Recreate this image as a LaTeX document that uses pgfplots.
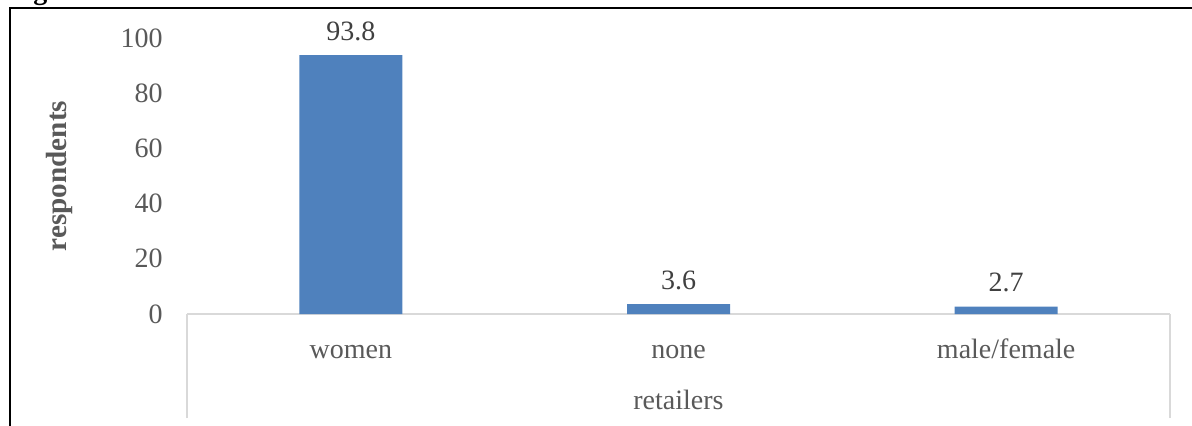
\documentclass[border=0pt]{standalone}
\usepackage{fontspec}
\setmainfont{Liberation Serif}
\usepackage{pgfplots}
\pgfplotsset{compat=1.18}
\definecolor{barblue}{HTML}{4F81BD}
\definecolor{txtgray}{HTML}{595959}
\definecolor{lblgray}{HTML}{404040}
\definecolor{axgray}{HTML}{D9D9D9}
\begin{document}
\begin{tikzpicture}
\path[use as bounding box] (0pt,0pt) rectangle (596pt,212.5pt);
\draw[line width=1.1pt, black] (5pt,-5pt) -- (5pt,208.5pt) -- (600pt,208.5pt);
\node[anchor=base west, font=\fontsize{14}{16}\selectfont\bfseries, inner sep=0pt] at (4pt,213pt) {Figure};
\begin{axis}[
  at={(93.5pt,55.5pt)}, anchor=south west,
  scale only axis, width=491.5pt, height=138pt,
  xmin=-0.5, xmax=2.5, ymin=0, ymax=100,
  axis x line*=bottom, axis y line*=left,
  x axis line style={draw=axgray, line width=0.8pt},
  y axis line style={draw=none},
  xtick={0,1,2}, xticklabels={women,none,male/female},
  ytick={0,20,40,60,80,100},
  major tick length=0pt,
  /pgf/number format/assume math mode=true,
  tick label style={font=\fontsize{14}{16}\selectfont, text=txtgray},
  xticklabel style={anchor=base, yshift=-22pt, inner sep=0pt},
  yticklabel style={anchor=east, inner sep=0pt, xshift=-12pt},
  extra x ticks={-0.5,2.5}, extra x tick labels={},
  extra x tick style={major tick length=52pt, tick align=outside, tick style={draw=axgray, line width=0.8pt}},
  xlabel={retailers},
  every axis x label/.style={at={(axis description cs:0.5,0)}, anchor=base, yshift=-47.5pt, inner sep=0pt, font=\fontsize{14}{16}\selectfont, text=txtgray},
  ylabel={respondents},
  every axis y label/.style={at={(axis description cs:-0.1231,0.5)}, anchor=base, rotate=90, inner sep=0pt, font=\fontsize{14.6}{17}\selectfont\bfseries, text=txtgray},
  clip=false,
]
\addplot[ybar, fill=barblue, draw=none, bar width=51.5pt,
  nodes near coords,
  every node near coord/.append style={font=\fontsize{14}{16}\selectfont, text=lblgray, anchor=base, inner sep=0pt, yshift=7.5pt},
  /pgf/number format/fixed, /pgf/number format/precision=1, /pgf/number format/assume math mode=true]
  coordinates {(0,93.8) (1,3.6) (2,2.7)};
\end{axis}
\end{tikzpicture}
\end{document}
